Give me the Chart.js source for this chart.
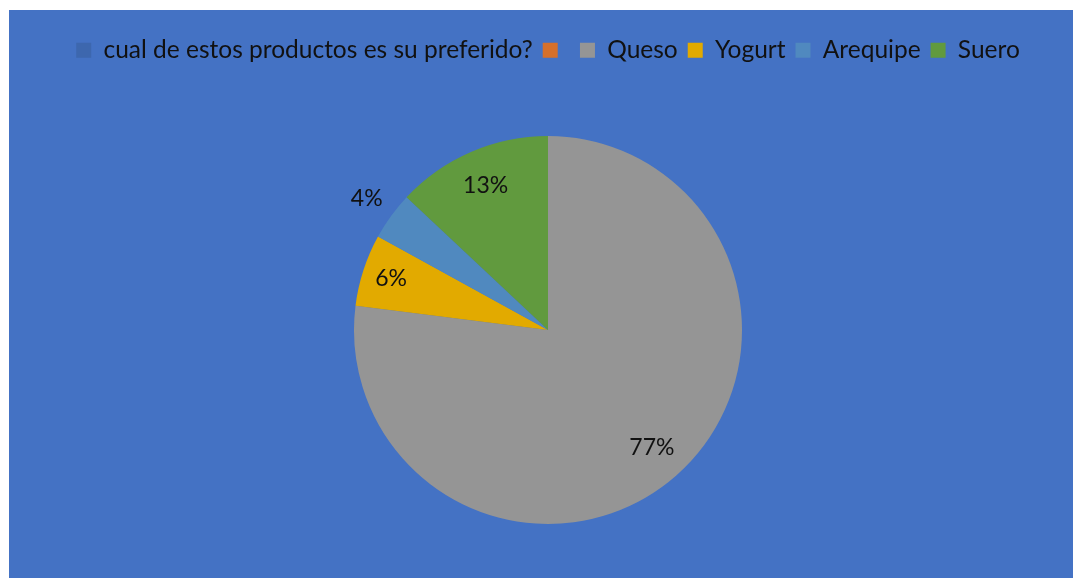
<!DOCTYPE html>
<html>
<head>
<meta charset="utf-8">
<script src="https://cdn.jsdelivr.net/npm/chart.js@4.4.0/dist/chart.umd.min.js"></script>
<style>
    html, body { margin: 0; padding: 0; background: #ffffff; }
    #wrap {
        position: absolute;
        left: 9px;
        top: 10px;
        width: 1064px;
        height: 568px;
        background: #4472C4;
    }
</style>
</head>
<body>
<div id="wrap"><canvas id="pieChart"></canvas></div>
<script>
// Chart data
const categories = ['cual de estos productos es su preferido?', '', 'Queso', 'Yogurt', 'Arequipe', 'Suero'];
const percentages = [0, 0, 77, 6, 4, 13];

// Slice colours
const SLICE_COLORS = ['#3D67AE', '#D5702B', '#959595', '#E2AA00', '#5089BF', '#619A3E'];

// Label distance from centre, as a fraction of the radius
const LABEL_RADIUS = [0.8, 0.8, 0.81, 0.85, 1.155, 0.81];

const TEXT_COLOR = '#111111';
const FONT_FAMILY = 'Lato, "Open Sans", sans-serif';

// Push the pie down below the legend
const legendSpace = {
    id: 'legendSpace',
    beforeInit(chart) {
        const fit = chart.legend.fit;
        chart.legend.fit = function () {
            fit.bind(chart.legend)();
            this.height = 108;
        };
    }
};

// Percentage labels on the slices
const sliceLabels = {
    id: 'sliceLabels',
    afterDatasetsDraw(chart) {
        const ctx = chart.ctx;
        const meta = chart.getDatasetMeta(0);
        ctx.save();
        ctx.font = '23px ' + FONT_FAMILY;
        ctx.fillStyle = TEXT_COLOR;
        ctx.textAlign = 'center';
        ctx.textBaseline = 'middle';
        meta.data.forEach((arc, i) => {
            const value = percentages[i];
            if (!value) return;
            const p = arc.getProps(['x', 'y', 'startAngle', 'endAngle', 'outerRadius'], true);
            const mid = (p.startAngle + p.endAngle) / 2;
            const r = p.outerRadius * LABEL_RADIUS[i];
            ctx.fillText(value + '%', p.x + Math.cos(mid) * r, p.y + Math.sin(mid) * r);
        });
        ctx.restore();
    }
};

const ctx = document.getElementById('pieChart').getContext('2d');
new Chart(ctx, {
    type: 'pie',
    data: {
        labels: categories,
        datasets: [{
            data: percentages,
            backgroundColor: SLICE_COLORS,
            borderWidth: 0
        }]
    },
    options: {
        responsive: true,
        maintainAspectRatio: false,
        animation: false,
        layout: {
            padding: { top: 18, left: 14, right: 0, bottom: 54 }
        },
        plugins: {
            legend: {
                position: 'top',
                labels: {
                    boxWidth: 15,
                    boxHeight: 15,
                    padding: 10,
                    color: TEXT_COLOR,
                    font: { family: FONT_FAMILY, size: 24.5 }
                }
            },
            tooltip: { enabled: false }
        }
    },
    plugins: [legendSpace, sliceLabels]
});
</script>
</body>
</html>
